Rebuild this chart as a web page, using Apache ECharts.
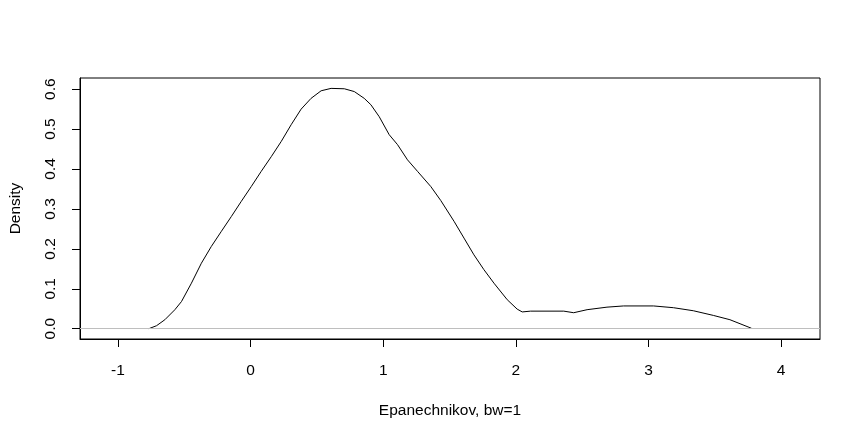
<!DOCTYPE html>
<html><head><meta charset="utf-8">
<script src="https://cdn.jsdelivr.net/npm/echarts@6/dist/echarts.min.js"></script>
<style>html,body{margin:0;padding:0;background:#fff}#c{width:861px;height:437px}</style>
</head><body><div id="c"></div>
<script>
const xVals = [-0.767,-0.709,-0.646,-0.571,-0.521,-0.446,-0.371,-0.296,-0.220,-0.145,-0.070,0.005,0.080,0.156,0.231,0.306,0.381,0.456,0.532,0.607,0.707,0.782,0.857,0.907,0.970,1.045,1.108,1.183,1.259,1.359,1.434,1.534,1.609,1.684,1.759,1.835,1.935,2.010,2.048,2.111,2.361,2.436,2.537,2.687,2.812,3.038,3.188,3.338,3.489,3.614,3.777];
const densVals = [0.000,0.0075,0.0225,0.0475,0.068,0.114,0.164,0.206,0.244,0.281,0.319,0.356,0.394,0.431,0.469,0.511,0.550,0.577,0.596,0.602,0.601,0.594,0.577,0.561,0.531,0.486,0.461,0.423,0.394,0.356,0.321,0.269,0.227,0.185,0.148,0.114,0.0726,0.049,0.042,0.044,0.044,0.040,0.0476,0.054,0.057,0.057,0.0526,0.045,0.0333,0.0225,0.001];
const xTicks = [-1,0,1,2,3,4];
const yTicks = [0,0.1,0.2,0.3,0.4,0.5,0.6];
const xTitle = 'Epanechnikov, bw=1';
const yTitle = 'Density';

const font = 'Liberation Sans';
const fs = 15.5;
const chart = echarts.init(document.getElementById('c'), null, {renderer:'canvas'});
chart.setOption({
  animation:false,
  backgroundColor:'#fff',
  grid:{left:78,right:41,top:78,bottom:98,show:true,borderColor:'#000',borderWidth:1,backgroundColor:'transparent'},
  xAxis:{type:'value',min:-1.286,max:4.293,
    name:xTitle,nameLocation:'middle',nameGap:64,nameTextStyle:{fontFamily:font,fontSize:fs,color:'#000'},
    axisLine:{show:true,onZero:false,lineStyle:{color:'#000',width:1}},
    splitLine:{show:false},
    axisTick:{show:true,length:8,lineStyle:{color:'#000'},customValues:xTicks},
    axisLabel:{show:true,margin:24,fontFamily:font,fontSize:fs,color:'#000',customValues:xTicks,formatter:v=>String(v)}
  },
  yAxis:{type:'value',min:-0.0258,max:0.628,
    name:yTitle,nameLocation:'middle',nameGap:56,nameRotate:90,nameTextStyle:{fontFamily:font,fontSize:fs,color:'#000'},
    axisLine:{show:true,onZero:false,lineStyle:{color:'#000',width:1}},
    splitLine:{show:false},
    axisTick:{show:true,length:8,lineStyle:{color:'#000'},customValues:yTicks},
    axisLabel:{show:true,rotate:90,margin:21,fontFamily:font,fontSize:fs,color:'#000',customValues:yTicks,formatter:v=>v.toFixed(1)}
  },
  series:[{type:'line',data:xVals.map((x,i)=>[x,densVals[i]]),showSymbol:false,symbol:'none',smooth:false,
    lineStyle:{color:'#000',width:1},
    markLine:{silent:true,symbol:['none','none'],label:{show:false},lineStyle:{color:'#bebebe',type:'solid',width:1},data:[{yAxis:0}]},
    z:3
  }]
});
</script></body></html>
